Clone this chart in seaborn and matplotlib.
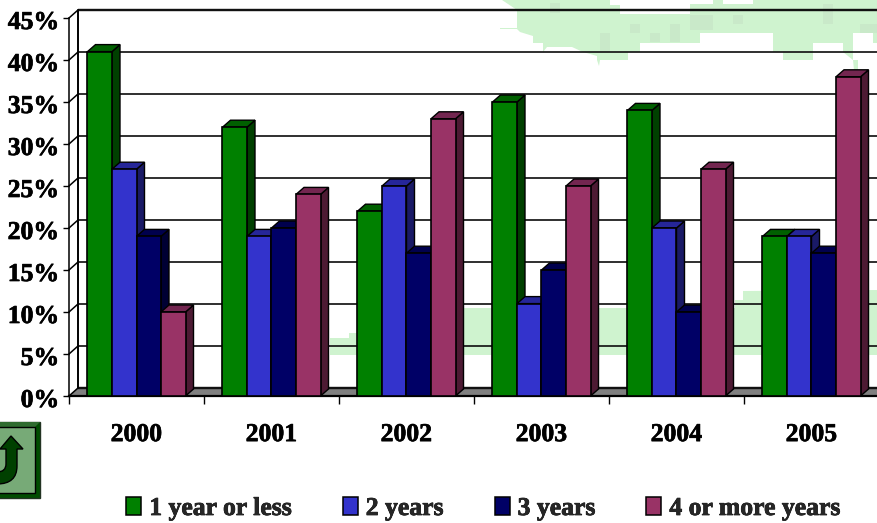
import numpy as np
import pandas as pd
import matplotlib
matplotlib.use("Agg")
import matplotlib.pyplot as plt
import matplotlib.patheffects as pe
from matplotlib.patches import Polygon, Patch, Rectangle, PathPatch
from matplotlib.path import Path
from matplotlib.transforms import Affine2D
import seaborn as sns

# Chart data (percent of respondents per year)
years = ["2000", "2001", "2002", "2003", "2004", "2005"]
one_year_or_less = [41, 32, 22, 35, 34, 19]
two_years = [27, 19, 25, 11, 20, 19]
three_years = [19, 20, 17, 15, 10, 17]
four_or_more = [10, 24, 33, 25, 27, 38]
series_names = ["1 year or less", "2 years", "3 years", "4 or more years"]
y_ticks = [0, 5, 10, 15, 20, 25, 30, 35, 40, 45]

# Front, top and side shades for each series
front_colors = ["#008000", "#3333CC", "#000066", "#993366"]
top_colors = ["#006000", "#262699", "#00004D", "#732650"]
side_colors = ["#004000", "#1A1A66", "#000033", "#4D1A33"]

W, H = 878, 523
FONT = "Liberation Serif"
FONT_SIZE = 18.5
HEAVY = [pe.withStroke(linewidth=0.5, foreground="black")]

sns.set_style("white")
plt.rcParams["font.family"] = [FONT, "DejaVu Serif"]
plt.rcParams["font.weight"] = "bold"

fig = plt.figure(figsize=(W / 100, H / 100), dpi=100, facecolor="white")

# Decorative layer in pixel coordinates: faint map and the return button
deco = fig.add_axes([0, 0, 1, 1], zorder=0)
deco.set_xlim(0, W)
deco.set_ylim(H, 0)
deco.axis("off")

MAP_GREEN = "#CFF3CF"
map_top = [(502, 0), (610, 0), (610, 5), (620, 5), (620, 14), (690, 14), (690, 4), (713, 4),
           (713, 0), (723, 0), (723, 4), (753, 4), (753, 0), (878, 0), (878, 43), (873, 43),
           (873, 33), (853, 33), (853, 60), (858, 60), (858, 70), (868, 70), (868, 110),
           (878, 110), (858, 110), (853, 60), (843, 52), (843, 43), (813, 43), (813, 60),
           (783, 60), (783, 52), (773, 52), (773, 33), (700, 33), (700, 43), (640, 43),
           (640, 52), (628, 52), (628, 60), (600, 60), (599, 66), (597, 60), (597, 56),
           (583, 52), (572, 47), (547, 47), (543, 52), (543, 43), (533, 43), (533, 36),
           (520, 32), (517, 29), (500, 29), (500, 28), (517, 28), (517, 10), (502, 0)]
map_low = [(330, 355), (330, 338), (349, 338), (349, 333), (358, 333), (420, 310), (464, 308),
           (735, 308), (735, 300), (743, 300), (743, 291), (878, 290), (878, 355)]
deco.add_patch(Polygon(map_top, closed=True, fc=MAP_GREEN, ec="none"))
deco.add_patch(Polygon(map_low, closed=True, fc=MAP_GREEN, ec="none"))
for x0, y0, w, h in [(550, 3, 10, 10), (630, 24, 10, 9), (650, 33, 10, 9), (670, 24, 10, 18),
                     (600, 33, 10, 19), (690, 15, 23, 15), (733, 15, 10, 9), (823, 4, 10, 20),
                     (860, 24, 18, 9)]:
    deco.add_patch(Rectangle((x0, y0), w, h, fc="#C9E9C9", ec="none"))

# Return button, cut off by the left edge
deco.add_patch(Rectangle((-30, 422), 70, 76, fc="#004D00", ec="#223322", lw=1))
deco.add_patch(Polygon([(-30, 422), (40, 422), (35, 427), (-30, 427)], fc="#2F6B2F", ec="none"))
deco.add_patch(Rectangle((-30, 427), 65, 66, fc="#77AA77", ec="black", lw=1))
arrow = Path(
    [(17, 449), (17, 466), (17, 484), (-3, 484), (-3, 472), (6, 472), (6, 464), (6, 449),
     (0, 449), (11, 436), (23, 449), (17, 449)],
    [Path.MOVETO, Path.LINETO, Path.CURVE3, Path.CURVE3, Path.LINETO, Path.CURVE3, Path.CURVE3,
     Path.LINETO, Path.LINETO, Path.LINETO, Path.LINETO, Path.CLOSEPOLY],
)
deco.add_patch(PathPatch(arrow, fc="#004000", ec="black", lw=1))

# Main axes: front plane of the pseudo-3D chart
LEFT, RIGHT, TOP, BOTTOM = 69, 879, 18, 396
ax = fig.add_axes([LEFT / W, 1 - BOTTOM / H, (RIGHT - LEFT) / W, (BOTTOM - TOP) / H], zorder=1)
ax.patch.set_visible(False)

table = pd.DataFrame({"year": years, series_names[0]: one_year_or_less, series_names[1]: two_years,
                      series_names[2]: three_years, series_names[3]: four_or_more})
long_table = table.melt(id_vars="year", var_name="tenure", value_name="share")
sns.barplot(data=long_table, x="year", y="share", hue="tenure", hue_order=series_names,
            palette=front_colors, saturation=1, width=0.726, edgecolor="black", linewidth=1.2,
            legend=False, ax=ax)

ax.set_xlim(-0.5, 5.5)
ax.set_ylim(0, 45)
ax.set_xlabel("")
ax.set_ylabel("")
px_x = 6 / (RIGHT - LEFT)     # data units per pixel, horizontal
px_y = 45 / (BOTTOM - TOP)    # data units per pixel, vertical

# Back wall, floor and gridlines sit one depth step behind the front plane
wall_dx, wall_dy = 9, 8
wall = ax.transData + Affine2D().translate(wall_dx, wall_dy)
ax.add_patch(Polygon([(-0.5, 0), (5.5, 0), (5.5 + wall_dx * px_x, wall_dy * px_y),
                      (-0.5 + wall_dx * px_x, wall_dy * px_y)],
                     fc="#808080", ec="none", zorder=1, clip_on=False))
for v in y_ticks:
    width = 2.4 if v in (0, 45) else 1.7
    ax.plot([-0.5, 5.5], [v, v], transform=wall, color="#111111", lw=width * 0.72, zorder=1.5,
            clip_on=False, solid_capstyle="butt")
    ax.plot([-0.5, -0.5 + wall_dx * px_x], [v, v + wall_dy * px_y], color="black", lw=1.1,
            zorder=1.5, clip_on=False)
ax.plot([-0.5, -0.5], [0, 45], transform=wall, color="black", lw=1.4, zorder=1.5, clip_on=False)

# Extrude every bar: side and top faces follow the bar's own rectangle
bar_dx, bar_dy = 8 * px_x, 7 * px_y
for h_idx, container in enumerate(ax.containers):
    for g_idx, bar in enumerate(container):
        z = 3 + (g_idx * 4 + h_idx) * 0.01
        x0, x1 = bar.get_x(), bar.get_x() + bar.get_width()
        top = bar.get_height()
        ax.add_patch(Polygon([(x1, 0), (x1 + bar_dx, bar_dy), (x1 + bar_dx, top + bar_dy), (x1, top)],
                             fc=side_colors[h_idx], ec="black", lw=1.0, zorder=z, clip_on=False))
        ax.add_patch(Polygon([(x0, top), (x0 + bar_dx, top + bar_dy), (x1 + bar_dx, top + bar_dy), (x1, top)],
                             fc=top_colors[h_idx], ec="black", lw=1.0, zorder=z, clip_on=False))
        bar.set_zorder(z + 0.001)
        bar.set_clip_on(False)

# Axes lines and ticks
sns.despine(ax=ax, top=True, right=True)
for side in ("left", "bottom"):
    ax.spines[side].set_color("black")
    ax.spines[side].set_zorder(2.5)
ax.spines["left"].set_linewidth(1.1)
ax.spines["bottom"].set_linewidth(1.6)

ax.set_yticks(y_ticks)
ax.set_yticklabels([f"{v}%" for v in y_ticks])
ax.set_xticks(np.arange(-0.5, 5.6, 1), minor=True)
ax.tick_params(axis="y", left=True, length=4.5, width=1, pad=2.5, labelsize=FONT_SIZE, color="black", labelcolor="black")
ax.tick_params(axis="x", which="major", bottom=False, length=0, pad=19.5, labelsize=FONT_SIZE, labelcolor="black")
ax.tick_params(axis="x", which="minor", bottom=True, length=5.5, width=1, color="black")
for label in ax.get_xticklabels() + ax.get_yticklabels():
    label.set_fontfamily(FONT)
    label.set_fontweight("bold")
    label.set_path_effects(HEAVY)
for label in ax.get_yticklabels():
    label.set_transform(label.get_transform() + Affine2D().translate(0, -2))

# Legend row along the bottom edge
handles = [Patch(facecolor=c, edgecolor="black", linewidth=1.1) for c in front_colors]
legend = fig.legend(handles, series_names, loc="center", bbox_to_anchor=(483.5 / W, 1 - 508.5 / H), ncol=4,
                    frameon=False, handlelength=0.58, handleheight=0.7, handletextpad=0.31,
                    columnspacing=1.98, borderpad=0,
                    prop={"family": FONT, "weight": "bold", "size": FONT_SIZE})
for text in legend.get_texts():
    text.set_path_effects(HEAVY)

fig.savefig("out.png", dpi=100, facecolor="white")
